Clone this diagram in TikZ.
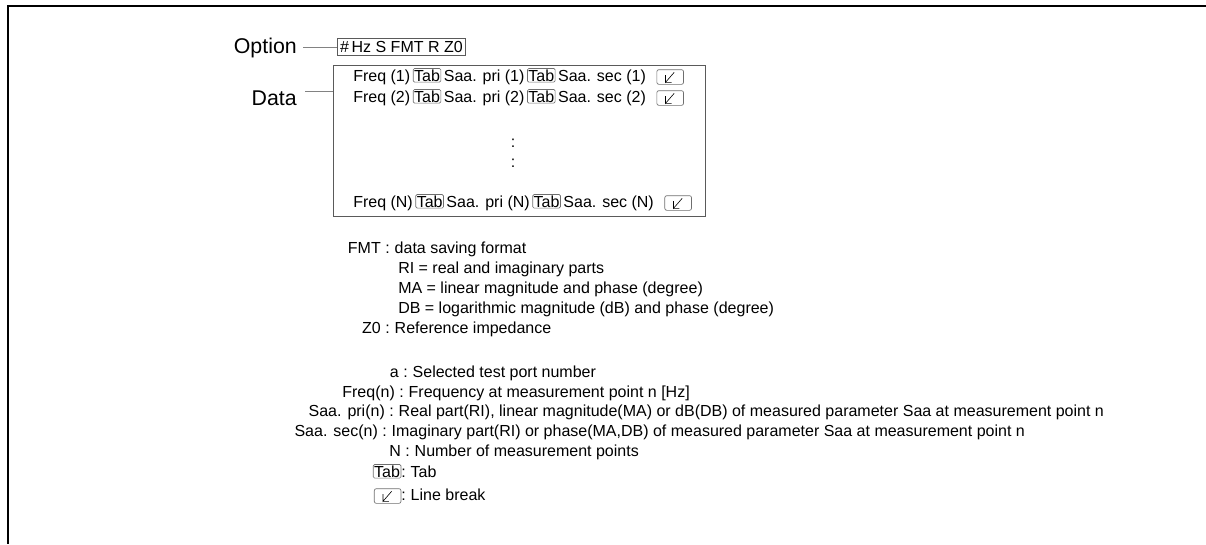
\documentclass[tikz,border=0pt]{standalone}
\usepackage{fontspec}
\setmainfont{Liberation Sans}
\usepackage{tikz}
\definecolor{keyGray}{RGB}{110,110,110}
\definecolor{boxGray}{RGB}{90,90,90}
\definecolor{leadGray}{RGB}{130,130,130}

% key glyphs used inside the text
\newcommand{\tabkey}{\tikz[baseline=(k.base),x=1pt,y=1pt]\node[draw=keyGray,rounded corners=1pt,inner sep=0.7pt,line width=0.5pt] (k) {Tab};}
\newcommand{\brkkey}{\tikz[baseline=0pt,x=1pt,y=1pt]{%
  \draw[keyGray,rounded corners=1.5pt,line width=0.5pt] (0,-2.5) rectangle (20,8.5);
  \draw[line width=0.45pt] (13,6.5) -- (6.5,-1) -- (6.5,4.5) (6.5,-1) -- (11,-1);}}

\begin{document}
\begin{tikzpicture}[x=0.75pt,y=-0.75pt,
  lbl/.style={font=\fontsize{16}{18}\selectfont, inner sep=0pt, anchor=base east},
  lead/.style={leadGray, line width=0.6pt},
  rowtxt/.style={font=\fontsize{12}{14}\selectfont, inner sep=0pt, anchor=base west},
  legtxt/.style={font=\fontsize{12}{14}\selectfont, inner sep=0pt}]
  \useasboundingbox (0,0) rectangle (1206,544);
  % frame (cut at right and bottom)
  \draw[line width=2.2pt] (1206,6) -- (8,6) -- (8,544);

  % file header
  \node (optlbl) [lbl] at (297,53) {Option};
  \node (optbox) [draw=boxGray, line width=0.6pt, font=\fontsize{12}{14}\selectfont,
    inner sep=2pt, anchor=west] at (337,47) {\#\,Hz S FMT R Z0};
  \draw[lead] (optlbl.east |- optbox.west) ++(6,0) -- (optbox.west);

  \node (datalbl) [lbl] at (297,105) {Data};
  \node (databox) [draw=boxGray, line width=0.6pt, anchor=north west, inner sep=0pt,
    minimum width=279pt, minimum height=113pt] at (333,65) {};
  \draw[lead] (datalbl.east) ++(8,-6) -- ++(28,0);

  % data rows
  \node (row1) [rowtxt] at (353,81) {Freq (1)\,\tabkey\,Saa. pri (1)\,\tabkey\,Saa. sec (1)\hspace{8pt}\brkkey};
  \node (row2) [rowtxt] at (353,102) {Freq (2)\,\tabkey\,Saa. pri (2)\,\tabkey\,Saa. sec (2)\hspace{8pt}\brkkey};
  \node (dots1) [rowtxt, anchor=center] at (513,143) {:};
  \node (dots2) [rowtxt, anchor=center] at (513,163) {:};
  \node (rowN) [rowtxt] at (353,207) {Freq (N)\,\tabkey\,Saa. pri (N)\,\tabkey\,Saa. sec (N)\hspace{8pt}\brkkey};

  % legend
  \foreach \lab/\txt/\yy [count=\i] in {%
    FMT/data saving format/253,
    Z0/Reference impedance/333} {
    \node (fl\i) [legtxt, anchor=base east] at (390,\yy) {\lab~:};
    \node (ft\i) [legtxt, anchor=base west] at (390,\yy) {~\txt};
  }
  \node (ri) [legtxt, anchor=base west] at (398,273) {RI = real and imaginary parts};
  \node (ma) [legtxt, anchor=base west] at (398,293) {MA = linear magnitude and phase (degree)};
  \node (db) [legtxt, anchor=base west] at (398,313) {DB = logarithmic magnitude (dB) and phase (degree)};

  \foreach \lab/\txt/\xx/\yy [count=\i] in {%
    a/Selected test port number/408/377,
    Freq(n)/Frequency at measurement point n [Hz]/404/397,
    Saa. pri(n)/{Real part(RI), linear magnitude(MA) or dB(DB) of measured parameter Saa at measurement point n}/394/416,
    Saa. sec(n)/{Imaginary part(RI) or phase(MA,DB) of measured parameter Saa at measurement point n}/387/436,
    N/Number of measurement points/410/456} {
    \node (ll\i) [legtxt, anchor=base east] at (\xx,\yy) {\lab~:};
    \node (lt\i) [legtxt, anchor=base west] at (\xx,\yy) {~\txt};
  }
  \node (tabl) [legtxt, anchor=base east] at (406,477) {\tabkey:};
  \node (tabt) [legtxt, anchor=base west] at (406,477) {~Tab};
  \node (brkl) [legtxt, anchor=base east] at (406,500) {\brkkey:};
  \node (brkt) [legtxt, anchor=base west] at (406,500) {~Line break};
\end{tikzpicture}
\end{document}
